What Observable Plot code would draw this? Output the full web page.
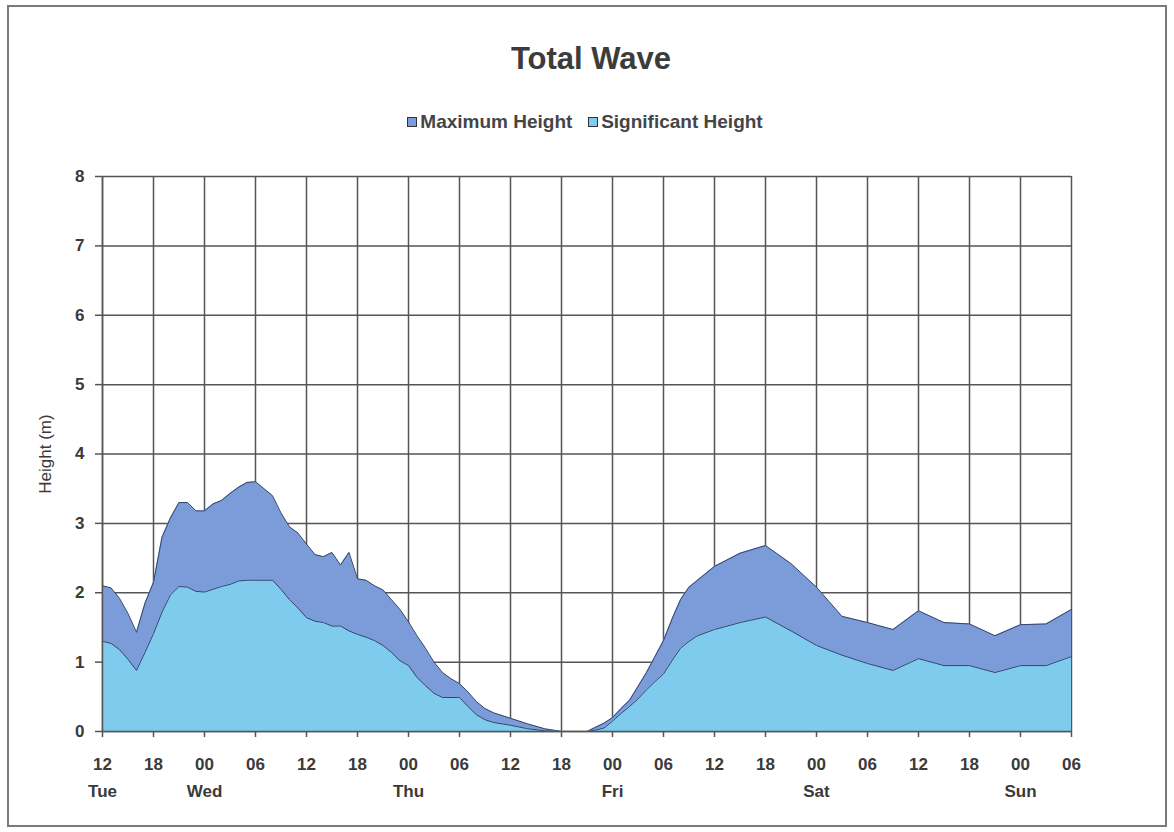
<!DOCTYPE html>
<html><head><meta charset="utf-8">
<script src="https://cdn.jsdelivr.net/npm/d3@7"></script>
<script src="https://cdn.jsdelivr.net/npm/@observablehq/plot@0.6"></script>
<style>
html,body{margin:0;padding:0;background:#fff;}
#frame{position:absolute;left:7px;top:5px;width:1160px;height:822px;border:2px solid #7a7a7a;box-sizing:border-box;}
#title{position:absolute;left:0;width:1182px;top:43px;text-align:center;font:bold 31px/1 "Liberation Sans",Arial,sans-serif;color:#3c3c3c;}
#legend{position:absolute;left:0;width:1170px;top:112px;text-align:center;font:bold 19px/1 "Liberation Sans",Arial,sans-serif;color:#454545;white-space:nowrap;}
.sw{display:inline-block;width:8px;height:8px;border:1px solid #333;margin-right:3px;vertical-align:1px;}
#chart{position:absolute;left:0;top:150px;}
</style>
</head><body>
<div id="frame"></div>
<div id="title">Total Wave</div>
<div id="legend"><span class="sw" id="sw1"></span>Maximum Height &nbsp;&nbsp;<span class="sw" id="sw2"></span>Significant Height</div>
<div id="chart"></div>
<script>
// hours since Tuesday 12:00
const hours      = [0,1,2,3,4,5,6,7,8,9,10,11,12,13,14,15,16,17,18,19,20,21,22,23,24,25,26,27,28,29,30,31,32,33,34,35,36,37,38,39,40,41,42,43,44,45,46,48,50,52,54,57,58,59,60,61,62,63,64,65,66,67,68,69,70,72,75,78,81,84,87,90,93,96,99,102,105,108,111,114];
const maxHeight  = [2.10,2.07,1.92,1.70,1.43,1.85,2.15,2.80,3.08,3.30,3.30,3.18,3.18,3.28,3.33,3.43,3.52,3.59,3.60,3.50,3.40,3.15,2.95,2.86,2.70,2.55,2.52,2.58,2.40,2.58,2.20,2.18,2.10,2.04,1.90,1.76,1.58,1.38,1.20,1.00,0.85,0.76,0.69,0.57,0.43,0.33,0.27,0.19,0.11,0.04,0,0,0.06,0.12,0.20,0.33,0.45,0.65,0.85,1.08,1.31,1.62,1.90,2.08,2.18,2.38,2.57,2.68,2.42,2.08,1.66,1.57,1.47,1.74,1.57,1.55,1.38,1.54,1.55,1.76];
const sigHeight  = [1.30,1.27,1.18,1.04,0.88,1.14,1.41,1.72,1.97,2.09,2.08,2.02,2.01,2.05,2.09,2.12,2.17,2.18,2.18,2.18,2.18,2.05,1.90,1.78,1.64,1.59,1.57,1.52,1.52,1.45,1.40,1.36,1.31,1.24,1.14,1.02,0.95,0.78,0.66,0.55,0.49,0.49,0.49,0.36,0.24,0.17,0.13,0.09,0.04,0.01,0,0,0.02,0.05,0.15,0.26,0.36,0.47,0.60,0.72,0.83,1.02,1.20,1.30,1.38,1.47,1.57,1.65,1.45,1.24,1.10,0.98,0.88,1.05,0.95,0.95,0.85,0.95,0.95,1.08];

const hourTicks  = [0,6,12,18,24,30,36,42,48,54,60,66,72,78,84,90,96,102,108,114];
const hourLabels = ["12","18","00","06","12","18","00","06","12","18","00","06","12","18","00","06","12","18","00","06"];
const dayTicks   = [0,12,36,60,84,108];
const dayNames   = ["Tue","Wed","Thu","Fri","Sat","Sun"];
const yTicks     = [0,1,2,3,4,5,6,7,8];
const yLabels    = ["0","1","2","3","4","5","6","7","8"];

const maxColor = "#7b9cd8";
const sigColor = "#7ecbee";
const edgeColor = "#34456a";
const gridColor = "#555555";

document.getElementById("sw1").style.background = maxColor;
document.getElementById("sw2").style.background = sigColor;

const data = hours.map((h, i) => ({h, max: maxHeight[i], sig: sigHeight[i]}));

const chart = Plot.plot({
  width: 1174, height: 682,
  marginLeft: 102, marginRight: 103, marginTop: 26, marginBottom: 101,
  style: {fontFamily: '"Liberation Sans", Arial, sans-serif', fontSize: "17px", fontWeight: "bold", color: "#3a3a3a", background: "transparent", overflow: "visible"},
  x: {domain: [0, 114]},
  y: {domain: [0, 8]},
  marks: [
    Plot.gridX(hourTicks, {stroke: gridColor, strokeOpacity: 1, strokeWidth: 1.5}),
    Plot.gridY(yTicks, {stroke: gridColor, strokeOpacity: 1, strokeWidth: 1.5}),
    Plot.areaY(data, {x: "h", y: "max", fill: maxColor}),
    Plot.lineY(data, {x: "h", y: "max", stroke: edgeColor, strokeWidth: 1}),
    Plot.areaY(data, {x: "h", y: "sig", fill: sigColor}),
    Plot.lineY(data, {x: "h", y: "sig", stroke: edgeColor, strokeWidth: 1}),
    Plot.ruleX([0], {stroke: gridColor, strokeWidth: 1.5}),
    Plot.ruleY([0], {stroke: gridColor, strokeWidth: 1.5}),
    Plot.axisY(yTicks, {tickSize: 7, tickPadding: 11, label: null, stroke: gridColor, strokeWidth: 1.5,
      tickFormat: d => yLabels[yTicks.indexOf(d)]}),
    Plot.axisX(hourTicks, {tickSize: 6, tickPadding: 20, label: null, stroke: gridColor, strokeWidth: 1.5,
      tickFormat: d => hourLabels[hourTicks.indexOf(d)]}),
    Plot.axisX(dayTicks, {tickSize: 0, tickPadding: 53, label: null,
      tickFormat: d => dayNames[dayTicks.indexOf(d)]}),
    Plot.text(["Height (m)"], {frameAnchor: "left", dx: -57, rotate: -90, textAnchor: "middle", fontWeight: "normal", fontSize: 17, fill: "#3a3a3a"})
  ]
});
document.getElementById("chart").appendChild(chart);
</script>
</body></html>
